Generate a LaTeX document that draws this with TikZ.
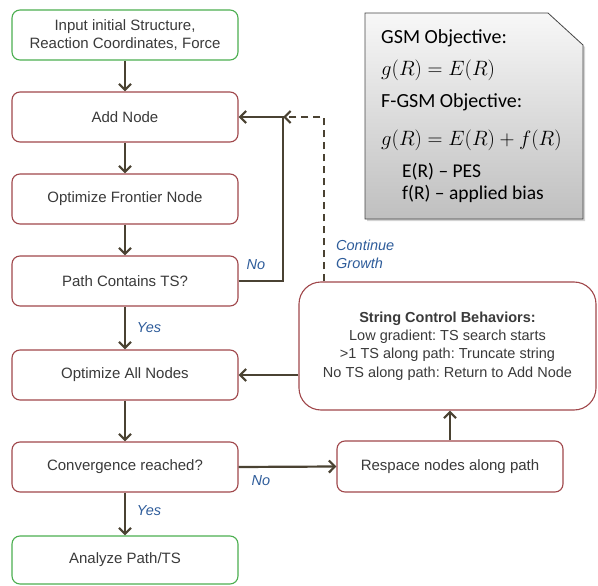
\documentclass[tikz,border=0pt]{standalone}
\usepackage{fontspec}
\setmainfont{Liberation Sans}
\newfontfamily\calib{Carlito}
\usetikzlibrary{arrows.meta,shadows}
\definecolor{boxred}{HTML}{A0474B}
\definecolor{boxgreen}{HTML}{4CAF50}
\definecolor{arr}{HTML}{4A4232}
\definecolor{lbl}{HTML}{2E5C9A}
\definecolor{txt}{HTML}{3A3A3A}
\frenchspacing
\tikzset{
  proc/.style={draw=boxred, line width=1.1pt, rounded corners=8pt, minimum width=226pt,
    minimum height=50pt, fill=white, text=txt, font=\fontsize{15}{18}\selectfont, align=center, inner sep=0pt},
  term/.style={proc, draw=boxgreen},
  flow/.style={draw=arr, line width=2.2pt, -{Straight Barb[length=6pt,width=12pt,line width=2.2pt]}},
  dflow/.style={flow, dash pattern=on 7pt off 5pt},
  lab/.style={text=lbl, font=\fontsize{14.5}{17}\selectfont\itshape, inner sep=0pt},
  notetxt/.style={anchor=west, inner sep=0pt, text=black, font=\calib\fontsize{20}{24}\selectfont},
  notemath/.style={anchor=west, inner sep=0pt, text=black, font=\fontsize{20.5}{24}\selectfont},
}
\begin{document}
\begin{tikzpicture}[x=1pt,y=-1pt]
\useasboundingbox (0,0) rectangle (598,586);
% note box
\path[draw=gray!55!black, line width=0.8pt, top color=gray!6, bottom color=gray!50,
  drop shadow={opacity=0.35, shadow xshift=2pt, shadow yshift=-2pt}]
  (365,13) -- (548,13) -- (583,45) -- (583,219) -- (365,219) -- cycle;
\node[notetxt] (n1) at (381,38) {GSM Objective:};
\node[notemath] (n2) at (381,70) {$g\bigl(R\bigr)=E\bigl(R\bigr)$};
\node[notetxt] (n3) at (381,102) {F-GSM Objective:};
\node[notemath, font=\fontsize{19.5}{24}\selectfont] (n4) at (381,140) {$g\bigl(R\bigr)=E\bigl(R\bigr)+f(R)$};
\node[notetxt, font=\calib\fontsize{19.5}{22}\selectfont] (n5) at (402,172) {E(R) – PES};
\node[notetxt, font=\calib\fontsize{19.5}{22}\selectfont] (n6) at (402,194) {f(R) – applied bias};

% main flow
\node[term] (in) at (125,35) {Input initial Structure,\\Reaction Coordinates, Force};
\node[proc] (add) at (125,117) {Add Node};
\node[proc] (front) at (125,199) {Optimize Frontier Node};
\node[proc] (path) at (125,281) {Path Contains TS?};
\node[proc] (all) at (125,375) {Optimize All Nodes};
\node[proc] (conv) at (125,467) {Convergence reached?};
\node[term, minimum height=48pt] (ana) at (125,560) {Analyze Path/TS};

\node[proc, rounded corners=22pt, minimum width=297pt, minimum height=128pt,
  font=\fontsize{14.5}{18.3}\selectfont] (scb) at (447.5,346)
  {\textbf{String Control Behaviors:}\\Low gradient: TS search starts\\>1 TS along path: Truncate string\\No TS along path: Return to Add Node};
\node[proc, minimum height=51pt] (resp) at (450,466.5) {Respace nodes along path};

\coordinate (j) at (283,117);
\coordinate (d1) at (324,117);

\draw[flow] (in) -- (add);
\draw[flow] (add) -- (front);
\draw[flow] (front) -- (path);
\draw[flow] (path) -- (all);
\draw[flow] (all) -- (conv);
\draw[flow] (conv) -- (ana);
\draw[flow] (path.east) -| (j) -- (add.east);
\draw[dflow] (scb.north -| d1) -- (d1) -- (j);
\draw[flow] (scb.west |- all.east) -- (all.east);
\draw[flow] (conv.east) -- (resp.west);
\draw[flow] (resp.north) -- (resp.north |- scb.south);

\node[lab] (l1) at (256,265) {No};
\node[lab] (l2) at (149,328) {Yes};
\node[lab, anchor=west, align=left, font=\fontsize{14.5}{18}\selectfont\itshape] (l3) at (336,254) {Continue\\Growth};
\node[lab] (l4) at (261,481) {No};
\node[lab] (l5) at (149,511) {Yes};
\end{tikzpicture}
\end{document}
